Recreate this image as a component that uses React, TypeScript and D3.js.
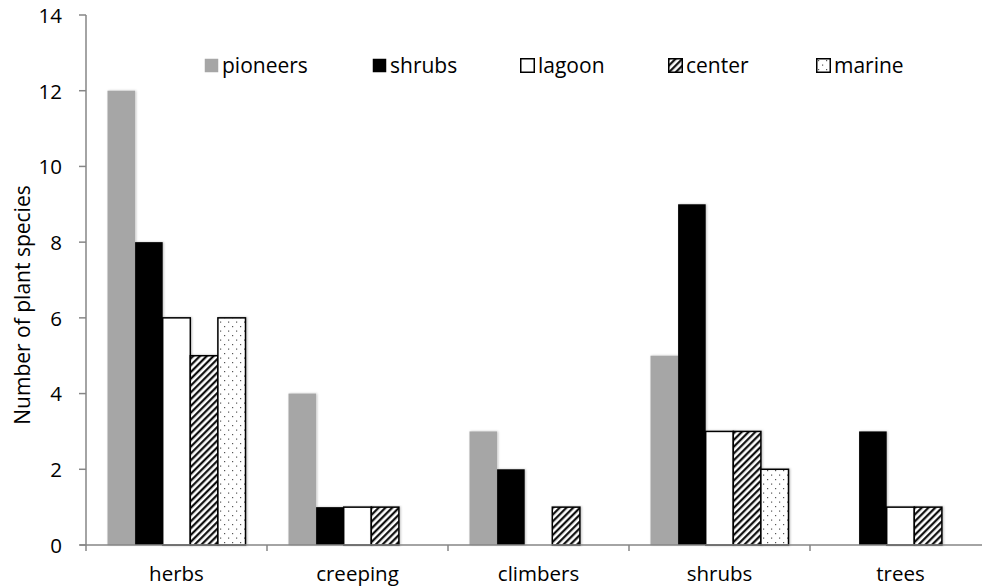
import React from 'react';
import * as d3 from 'd3';

const categories = ['herbs', 'creeping', 'climbers', 'shrubs', 'trees'];
const seriesNames = ['pioneers', 'shrubs', 'lagoon', 'center', 'marine'];
const pioneers = [12, 4, 3, 5, 0];
const shrubs = [8, 1, 2, 9, 3];
const lagoon = [6, 1, 0, 3, 1];
const center = [5, 1, 1, 3, 1];
const marine = [6, 0, 0, 2, 0];
const yTicks = [0, 2, 4, 6, 8, 10, 12, 14];
const yLabel = 'Number of plant species';

const seriesValues = [pioneers, shrubs, lagoon, center, marine];

const W = 982;
const H = 588;
const FONT = "'Open Sans', sans-serif";
const FS = 20.5;

const styles = [
  { fill: '#a6a6a6', stroke: 'none' },
  { fill: '#000000', stroke: 'none' },
  { fill: '#ffffff', stroke: '#000' },
  { fill: 'url(#hatch)', stroke: '#000' },
  { fill: 'url(#dots)', stroke: '#000' },
];
const legendX = [204, 372, 520, 668, 816];

export default function App() {
  const y = d3.scaleLinear().domain([0, 14]).range([545, 15]);
  const x0 = d3.scaleBand<string>().domain(categories).range([86, 991]).padding(0);
  const bw = x0.bandwidth();
  const x1 = d3.scaleBand<string>().domain(seriesNames).range([21.5, bw - 21.5]).padding(0);
  const boundaries = categories.map((c) => x0(c) as number).concat([(x0(categories[4]) as number) + bw]);

  return (
    <svg width={W} height={H} style={{ position: 'absolute', left: 0, top: 0, background: '#fff' }} fontFamily={FONT}>
      <defs>
        <pattern id="hatch" patternUnits="userSpaceOnUse" width="4.8" height="4.8" patternTransform="rotate(45)">
          <rect width="4.8" height="4.8" fill="#fff" />
          <line x1="1.2" y1="0" x2="1.2" y2="4.8" stroke="#000" strokeWidth="2.1" />
        </pattern>
        <pattern id="dots" patternUnits="userSpaceOnUse" width="8" height="9">
          <rect width="8" height="9" fill="#fff" />
          <rect x="2" y="2" width="1.2" height="1.2" fill="#555" />
          <rect x="6" y="6.5" width="1.2" height="1.2" fill="#555" />
        </pattern>
        <filter id="shadow" x="-20%" y="-5%" width="140%" height="110%">
          <feDropShadow dx="1" dy="0" stdDeviation="1.2" floodColor="#000" floodOpacity="0.25" />
        </filter>
      </defs>

      {/* y axis */}
      <line x1={86} x2={86} y1={y(14)} y2={y(0)} stroke="#868686" strokeWidth={1.5} />
      {yTicks.map((t) => (
        <g key={t}>
          <line x1={79} x2={86} y1={y(t)} y2={y(t)} stroke="#868686" strokeWidth={1.5} />
          <text x={62} y={y(t)} dy="0.38em" textAnchor="end" fontSize={FS} fill="#000">{t}</text>
        </g>
      ))}
      <text transform={`translate(30,305) rotate(-90)`} textAnchor="middle" fontSize={21} fill="#000">{yLabel}</text>

      {/* bars */}
      {categories.map((c, ci) => (
        <g key={c} transform={`translate(${x0(c)},0)`}>
          {seriesNames.map((s, si) => {
            const v = seriesValues[si][ci];
            if (!v) return null;
            const st = styles[si];
            return (
              <rect key={s} x={x1(s)} y={y(v)} width={x1.bandwidth()} height={y(0) - y(v)}
                fill={st.fill} stroke={st.stroke} strokeWidth={st.stroke === 'none' ? 0 : 1.5}
                filter="url(#shadow)" />
            );
          })}
        </g>
      ))}

      {/* x axis */}
      <line x1={80} x2={991} y1={y(0)} y2={y(0)} stroke="#868686" strokeWidth={1.5} />
      {boundaries.map((b, i) => (
        <line key={i} x1={b} x2={b} y1={y(0)} y2={y(0) + 6} stroke="#868686" strokeWidth={1.5} />
      ))}
      {categories.map((c) => (
        <text key={c} x={(x0(c) as number) + bw / 2} y={581} textAnchor="middle" fontSize={FS} fill="#000">{c}</text>
      ))}

      {/* legend */}
      {seriesNames.map((s, i) => {
        const st = styles[i];
        return (
          <g key={s} transform={`translate(${legendX[i]},58)`}>
            <rect x={0.75} y={0.75} width={13.5} height={13.5} fill={st.fill}
              stroke={st.stroke === 'none' ? 'none' : '#000'} strokeWidth={1.5} />
            <text x={18} y={15} fontSize={21} fill="#000">{s}</text>
          </g>
        );
      })}
    </svg>
  );
}
